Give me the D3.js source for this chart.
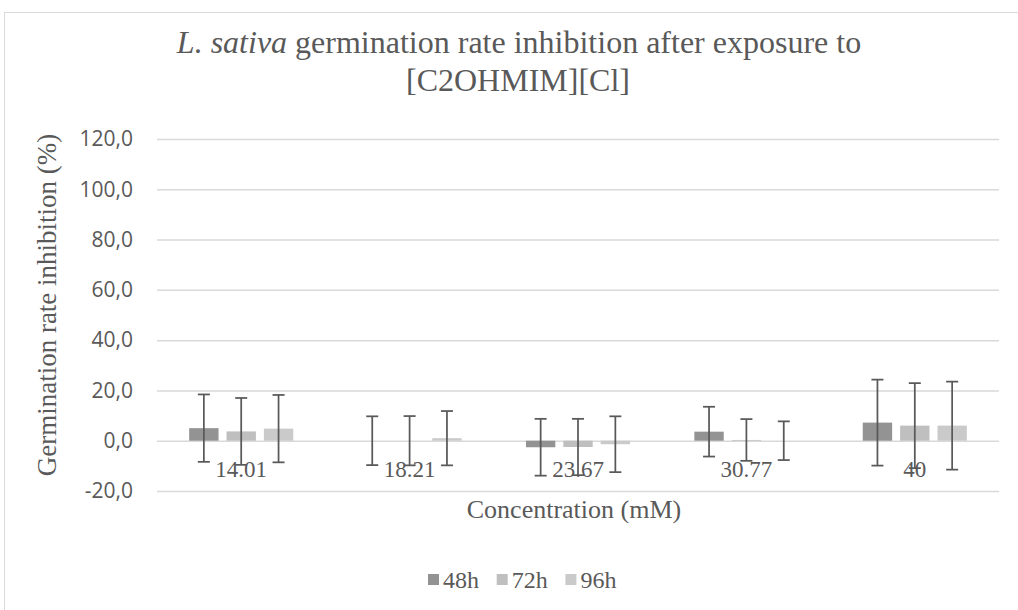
<!DOCTYPE html>
<html>
<head>
<meta charset="utf-8">
<script src="https://cdn.jsdelivr.net/npm/d3@7"></script>
<style>
  body { margin: 0; background: #fff; }
  svg { display: block; }
</style>
</head>
<body>
<div id="chart"></div>
<script>
// chart data
var categories = ['14.01', '18.21', '23.67', '30.77', '40'];
var seriesNames = ['48h', '72h', '96h'];
var values48 = [5.0, 0.0, -2.6, 3.6, 7.2];
var values72 = [3.7, 0.0, -2.5, 0.3, 6.0];
var values96 = [4.8, 1.0, -1.4, 0.0, 6.0];
var errors48 = [13.4, 9.7, 11.3, 9.9, 17.1];
var errors72 = [13.3, 9.8, 11.2, 8.3, 16.9];
var errors96 = [13.4, 10.8, 11.1, 7.7, 17.5];
var yTicks = [-20, 0, 20, 40, 60, 80, 100, 120];

var colors = ['#939393', '#bfbfbf', '#cacaca'];
var textColor = '#595959';
var serif = '"Liberation Serif", "Times New Roman", serif';
var sans = '"Open Sans", "Noto Sans", sans-serif';

var W = 1018, H = 610;
var margin = {top: 139, bottom: 119, left: 157, right: 19};
var width = W - margin.left - margin.right;
var height = H - margin.top - margin.bottom;

var series = [
    {name: seriesNames[0], color: colors[0], values: values48, errors: errors48},
    {name: seriesNames[1], color: colors[1], values: values72, errors: errors72},
    {name: seriesNames[2], color: colors[2], values: values96, errors: errors96}
];

var svg = d3.select('#chart')
    .append('svg')
    .attr('width', W)
    .attr('height', H);

// outer chart frame
svg.append('rect')
    .attr('x', 4.5)
    .attr('y', 12.5)
    .attr('width', W + 20)
    .attr('height', H + 20)
    .attr('fill', 'none')
    .attr('stroke', '#d9d9d9')
    .attr('stroke-width', 1);

var g = svg.append('g')
    .attr('transform', 'translate(' + margin.left + ',' + margin.top + ')');

var x0 = d3.scaleBand()
    .domain(categories)
    .range([0, width])
    .padding(0);

var x1 = d3.scaleBand()
    .domain(seriesNames)
    .range([0, x0.bandwidth()])
    .paddingInner(0.214)
    .paddingOuter(0.861);

var y = d3.scaleLinear()
    .domain([-20, 120])
    .range([height, 0]);

// gridlines + y labels (decimal comma, plain hyphen for minus)
var yAxis = d3.axisLeft(y)
    .tickValues(yTicks)
    .tickSize(-width)
    .tickPadding(24)
    .tickFormat(d => d.toFixed(1).replace('.', ','));

var yg = g.append('g').call(yAxis);
yg.select('.domain').remove();
yg.selectAll('.tick line')
    .attr('stroke', '#d9d9d9')
    .attr('stroke-width', 1.5);
yg.selectAll('.tick text')
    .attr('fill', textColor)
    .style('font-family', sans)
    .style('font-size', '21px');

// bars
var groups = g.selectAll('.series')
    .data(series).enter()
    .append('g')
    .attr('class', 'series');

groups.selectAll('rect')
    .data(function(s) {
        return s.values.map(function(v, i) {
            return {cat: categories[i], name: s.name, value: v, err: s.errors[i], color: s.color};
        });
    })
    .enter()
    .append('rect')
    .attr('x', d => x0(d.cat) + x1(d.name))
    .attr('width', x1.bandwidth())
    .attr('y', d => y(Math.max(0, d.value)))
    .attr('height', d => Math.abs(y(d.value) - y(0)))
    .attr('fill', d => d.color);

// error bars
var capW = 6;
var errs = groups.selectAll('.err')
    .data(function(s) {
        return s.values.map(function(v, i) {
            return {cat: categories[i], name: s.name, value: v, err: s.errors[i]};
        });
    })
    .enter()
    .append('g')
    .attr('class', 'err')
    .attr('stroke', '#595959')
    .attr('stroke-width', 1.75);

errs.append('line')
    .attr('x1', d => x0(d.cat) + x1(d.name) + x1.bandwidth() / 2)
    .attr('x2', d => x0(d.cat) + x1(d.name) + x1.bandwidth() / 2)
    .attr('y1', d => y(d.value + d.err))
    .attr('y2', d => y(d.value - d.err));

errs.append('line')
    .attr('x1', d => x0(d.cat) + x1(d.name) + x1.bandwidth() / 2 - capW)
    .attr('x2', d => x0(d.cat) + x1(d.name) + x1.bandwidth() / 2 + capW)
    .attr('y1', d => y(d.value + d.err))
    .attr('y2', d => y(d.value + d.err));

errs.append('line')
    .attr('x1', d => x0(d.cat) + x1(d.name) + x1.bandwidth() / 2 - capW)
    .attr('x2', d => x0(d.cat) + x1(d.name) + x1.bandwidth() / 2 + capW)
    .attr('y1', d => y(d.value - d.err))
    .attr('y2', d => y(d.value - d.err));

// category labels sit just below the zero line
g.selectAll('.cat-label')
    .data(categories).enter()
    .append('text')
    .attr('class', 'cat-label')
    .attr('x', d => x0(d) + x0.bandwidth() / 2)
    .attr('y', y(0) + 36)
    .attr('text-anchor', 'middle')
    .attr('fill', textColor)
    .style('font-family', serif)
    .style('font-size', '23px')
    .text(d => d);

// titles
var title = svg.append('text')
    .attr('text-anchor', 'middle')
    .attr('fill', textColor)
    .style('font-family', serif)
    .style('font-size', '32px');
var t1 = title.append('tspan').attr('x', 519).attr('y', 53);
t1.append('tspan').style('font-style', 'italic').text('L. sativa');
t1.append('tspan').text(' germination rate inhibition after exposure to');
title.append('tspan').attr('x', 518).attr('y', 91).text('[C2OHMIM][Cl]');

svg.append('text')
    .attr('transform', 'translate(56,305) rotate(-90)')
    .attr('text-anchor', 'middle')
    .attr('fill', textColor)
    .style('font-family', serif)
    .style('font-size', '27px')
    .text('Germination rate inhibition (%)');

svg.append('text')
    .attr('x', margin.left + width / 2 - 4)
    .attr('y', 518)
    .attr('text-anchor', 'middle')
    .attr('fill', textColor)
    .style('font-family', serif)
    .style('font-size', '26px')
    .text('Concentration (mM)');

// legend
var legend = svg.selectAll('.legend')
    .data(series).enter()
    .append('g')
    .attr('class', 'legend')
    .attr('transform', (d, i) => 'translate(' + (428 + i * 68.7) + ',574)');

legend.append('rect')
    .attr('width', 11)
    .attr('height', 11)
    .attr('fill', d => d.color);

legend.append('text')
    .attr('x', 15)
    .attr('y', 14)
    .attr('fill', textColor)
    .style('font-family', serif)
    .style('font-size', '24px')
    .text(d => d.name);
</script>
</body>
</html>
